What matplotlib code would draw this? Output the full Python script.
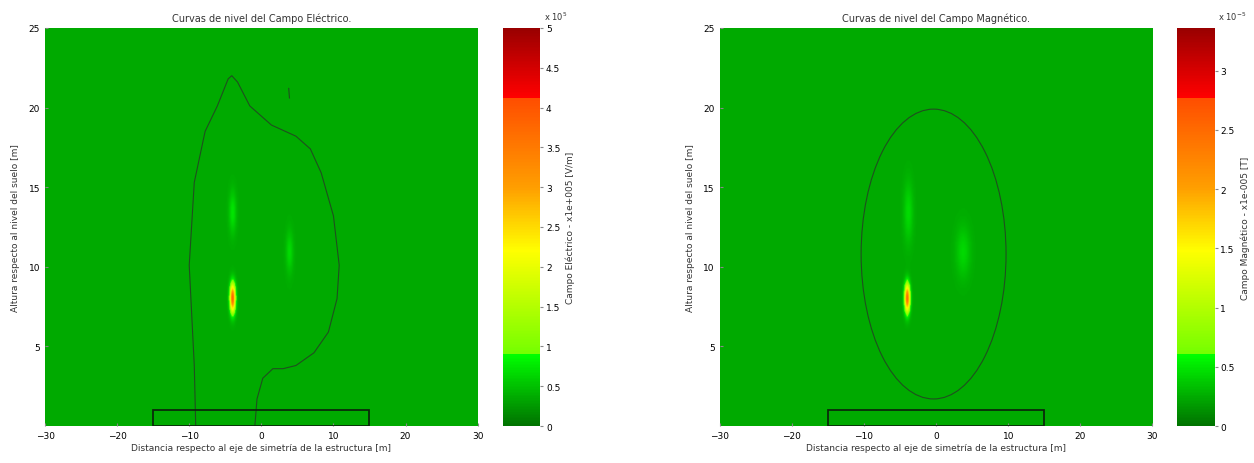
import numpy as np
import matplotlib
matplotlib.use("Agg")
from matplotlib import pyplot as plt
from matplotlib.colors import LinearSegmentedColormap
from matplotlib.patches import Rectangle, Ellipse

# Axis ranges and ticks
x_ticks = [-30, -20, -10, 0, 10, 20, 30]
y_ticks = [5, 10, 15, 20, 25]
e_ticks = [0, 0.5, 1, 1.5, 2, 2.5, 3, 3.5, 4, 4.5, 5]
m_ticks = [0, 0.5, 1, 1.5, 2, 2.5, 3]
e_max = 5.0
m_max = 3.36

# Field levels (background + hot spots: x, y, peak, sigma x, sigma y)
e_background = 0.36
e_spot_x = [-4.0, -4.0, 3.9]
e_spot_y = [8.0, 13.4, 10.9]
e_spot_peak = [3.5, 0.38, 0.32]
e_spot_sx = [0.26, 0.35, 0.35]
e_spot_sy = [0.6, 0.9, 0.9]

m_background = 0.24
m_spot_x = [-4.05, -3.9, 3.7]
m_spot_y = [8.0, 13.4, 10.9]
m_spot_peak = [2.25, 0.22, 0.2]
m_spot_sx = [0.26, 0.45, 0.7]
m_spot_sy = [0.6, 1.3, 1.1]

# Level curve of the electric field
e_curve_x = [-9.1, -9.3, -10.0, -9.3, -7.8, -6.1, -4.6, -4.1, -3.3, -1.6, 1.4, 4.8, 6.8,
             8.3, 10.0, 10.8, 10.5, 9.3, 7.3, 4.8, 3.0, 1.6, 0.2, -0.6, -0.9]
e_curve_y = [0.0, 3.8, 10.1, 15.3, 18.5, 20.1, 21.8, 22.0, 21.6, 20.1, 18.9, 18.2, 17.4,
             15.9, 13.2, 10.1, 8.0, 5.9, 4.6, 3.8, 3.6, 3.6, 3.0, 1.7, 0.0]
e_mark_x = [3.8, 3.9]
e_mark_y = [21.2, 20.6]

# Level curve of the magnetic field (ellipse)
m_curve_center = (-0.35, 10.8)
m_curve_width = 20.1
m_curve_height = 18.2

# Structure outline
struct_x = -15
struct_w = 30
struct_h = 1

cmap = LinearSegmentedColormap.from_list("campo", [
    (0.0, (0.0, 0.45, 0.0)),
    (0.1779, (0.0, 1.0, 0.0)),
    (0.178, (0.45, 1.0, 0.0)),
    (0.44, (1.0, 1.0, 0.0)),
    (0.6, (1.0, 0.62, 0.0)),
    (0.8269, (1.0, 0.3, 0.0)),
    (0.827, (1.0, 0.0, 0.0)),
    (1.0, (0.6, 0.0, 0.0)),
])

gx = np.linspace(-30, 30, 601)
gy = np.linspace(0, 25, 251)
GX, GY = np.meshgrid(gx, gy)


def field(bg, xs, ys, peaks, sxs, sys):
    z = np.full(GX.shape, bg)
    for x0, y0, p, sx, sy in zip(xs, ys, peaks, sxs, sys):
        z += p * np.exp(-((GX - x0) ** 2 / (2 * sx ** 2) + (GY - y0) ** 2 / (2 * sy ** 2)))
    return z


fs = 6.5
fig = plt.figure(figsize=(12.54, 4.64), dpi=100)


def panel(left, cleft, z, vmax, cticks, title, clabel, expo):
    ax = fig.add_axes([left, 0.0797, 0.345, 0.858])
    im = ax.imshow(z, extent=[-30, 30, 0, 25], origin="lower", aspect="auto",
                   cmap=cmap, vmin=0, vmax=vmax, interpolation="bilinear")
    ax.add_patch(Rectangle((struct_x, 0), struct_w, struct_h, fill=False,
                           edgecolor="#0a2a0a", lw=1.3, zorder=3))
    ax.set_xlim(-30, 30)
    ax.set_ylim(0, 25)
    ax.set_xticks(x_ticks)
    ax.set_yticks(y_ticks)
    ax.tick_params(labelsize=fs, direction="in", length=2, color="#888888")
    for s in ax.spines.values():
        s.set_visible(False)
    ax.set_title(title, fontsize=fs + 0.5, pad=5, color="#333333")
    ax.set_xlabel("Distancia respecto al eje de simetría de la estructura [m]",
                  fontsize=fs, labelpad=2, color="#333333")
    ax.set_ylabel("Altura respecto al nivel del suelo [m]", fontsize=fs,
                  labelpad=6, color="#333333")
    cax = fig.add_axes([cleft, 0.0797, 0.030, 0.858])
    cb = fig.colorbar(im, cax=cax, ticks=cticks)
    cb.outline.set_visible(False)
    cb.ax.tick_params(labelsize=fs, length=2, pad=2, color="#888888")
    cb.ax.set_yticklabels([("%g" % t) for t in cticks])
    cb.set_label(clabel, fontsize=fs, labelpad=4, color="#333333")
    cb.ax.text(1.1, 1.015, expo, transform=cb.ax.transAxes, fontsize=fs - 0.5,
               ha="left", va="bottom", color="#333333")
    return ax


e_field = field(e_background, e_spot_x, e_spot_y, e_spot_peak, e_spot_sx, e_spot_sy)
m_field = field(m_background, m_spot_x, m_spot_y, m_spot_peak, m_spot_sx, m_spot_sy)

ax1 = panel(0.0359, 0.401, e_field, e_max, e_ticks,
            "Curvas de nivel del Campo Eléctrico.",
            "Campo Eléctrico - x1e+005 [V/m]", r"x 10$^5$")
ax1.plot(e_curve_x, e_curve_y, color="#1f4f1f", lw=0.8)
ax1.plot(e_mark_x, e_mark_y, color="#1f4f1f", lw=0.8)

ax2 = panel(0.574, 0.9386, m_field, m_max, m_ticks,
            "Curvas de nivel del Campo Magnético.",
            "Campo Magnético - x1e-005 [T]", r"x 10$^{-5}$")
ax2.add_patch(Ellipse(m_curve_center, m_curve_width, m_curve_height, fill=False,
                      edgecolor="#1f4f1f", lw=0.8))

fig.savefig("out.png", dpi=100)
